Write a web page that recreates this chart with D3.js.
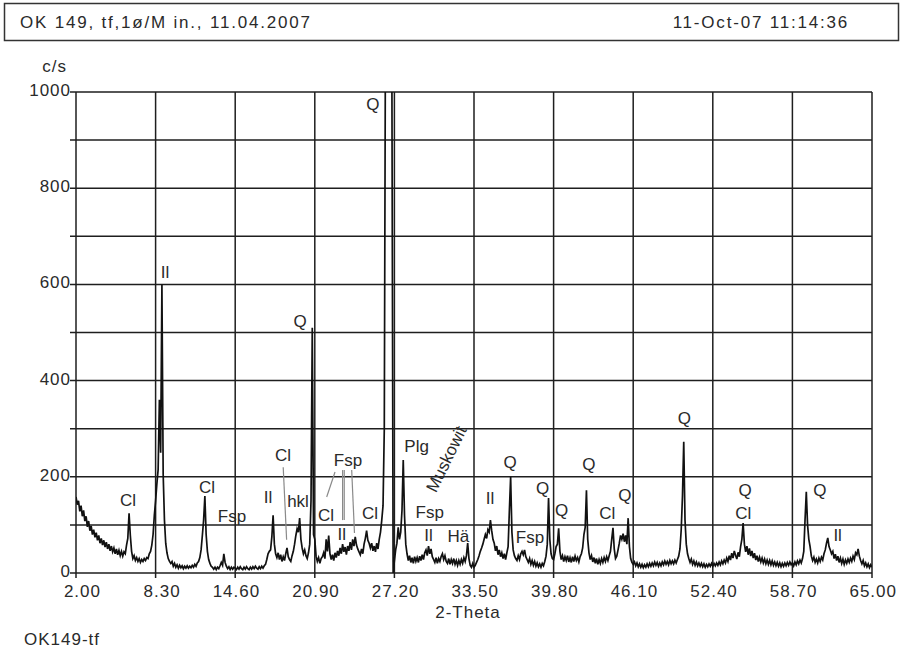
<!DOCTYPE html>
<html>
<head>
<meta charset="utf-8">
<script src="https://cdn.jsdelivr.net/npm/d3@7/dist/d3.min.js"></script>
<style>
  html, body { margin: 0; padding: 0; background: #fff; }
  svg { display: block; }
  text { font-family: "Liberation Sans", Arial, sans-serif; fill: #2a2a2a; }
</style>
</head>
<body>
<svg id="chart" width="906" height="651"></svg>
<script>
// Scan parameters: counts per second, 2-Theta 2.00 .. 65.00, step 0.1
const scanStart = 2.0;
const scanStep = 0.1;

// Counts, one block per 6.3 degree interval
const counts_02_08 = [158,142,150,128,140,118,130,108,118,96,108,88,98,80,90,74,84,68,78,62,72,58,68,54,64,50,60,46,56,44,52,40,50,38,47,36,45,35,44,40,58,72,124,78,45,30,36,26,32,24,30,22,28,24,30,26,32,30,40,45,58,80,120];
const counts_08_14 = [150,185,215,360,250,600,205,110,62,42,30,24,20,24,14,20,12,17,10,16,11,15,9,14,10,15,10,14,11,16,12,18,14,21,24,32,48,78,110,160,80,45,28,20,14,12,8,12,7,12,9,15,22,16,40,22,14,9,13,7,12,8,12];
const counts_14_20 = [10,7,12,8,13,9,7,12,8,13,9,7,12,8,13,9,14,10,8,13,9,14,10,15,18,28,40,45,48,75,120,60,40,32,42,28,38,24,34,26,40,52,34,28,24,36,45,60,78,92,85,114,70,52,40,48,36,30,42,60,150,510,80];
const counts_20_27 = [70,35,24,32,20,30,34,42,30,70,45,78,40,28,38,26,42,32,46,36,52,40,60,44,54,38,56,46,64,48,70,56,75,58,50,44,38,50,40,60,72,88,68,62,52,62,46,56,44,62,50,70,85,110,140,300,1200,1600,1500,1300,1100,1050,0];
const counts_27_33 = [25,48,62,95,70,85,130,235,120,60,40,26,36,22,32,20,34,24,32,22,35,26,38,28,42,48,36,56,40,50,34,28,22,32,20,30,24,34,40,28,36,24,20,30,18,28,20,30,18,26,16,26,18,28,20,32,24,36,62,30,16,12,20];
const counts_33_39 = [12,16,22,28,36,45,52,60,70,80,72,90,85,110,88,70,62,46,56,38,48,34,42,30,40,28,42,55,130,200,85,48,36,30,26,36,28,40,45,38,48,34,28,22,30,18,26,16,24,14,21,13,19,12,20,15,24,35,60,156,70,40,30];
const counts_39_46 = [28,40,55,60,93,45,28,36,24,34,26,36,23,32,22,34,24,35,26,32,23,34,40,52,80,95,172,70,42,28,36,23,32,20,30,18,28,20,30,22,32,24,34,26,36,45,70,94,50,30,35,48,62,78,70,82,65,78,60,114,55,30,22];
const counts_46_52 = [18,23,15,21,13,19,12,18,11,17,12,19,13,20,14,21,15,23,16,22,14,21,15,23,17,25,18,24,17,26,19,25,19,27,21,28,35,50,90,160,273,110,60,40,30,22,29,18,25,16,23,15,21,14,20,13,19,12,18,13,19,14,20];
const counts_52_58 = [14,20,15,21,16,23,17,25,19,27,21,31,24,36,27,41,31,46,37,29,43,34,55,70,104,60,44,56,38,51,35,46,31,41,27,36,24,33,23,31,21,29,19,27,18,26,17,25,16,23,15,22,14,21,13,20,14,21,15,22,16,23,17];
const counts_58_65 = [21,15,23,17,25,19,27,21,30,45,110,169,100,70,55,35,26,33,22,29,21,31,24,33,27,40,48,62,73,55,48,40,45,30,39,26,35,22,31,20,29,18,27,20,29,22,31,24,35,28,42,38,50,35,26,19,26,15,21,13,19,11,17,12];

// Axis tick values and their printed labels
const xTicks = [2.0, 8.3, 14.6, 20.9, 27.2, 33.5, 39.8, 46.1, 52.4, 58.7, 65.0];
const xTickLabels = ["2.00","8.30","14.60","20.90","27.20","33.50","39.80","46.10","52.40","58.70","65.00"];
const yGrid = [0,100,200,300,400,500,600,700,800,900,1000];
const yTickLabels = {0:"0", 200:"200", 400:"400", 600:"600", 800:"800", 1000:"1000"};

// Phase assignments: text, 2-Theta, c/s of the label baseline
const phaseLabels = [
  ["Cl", 6.12, 139], ["Il", 9.04, 613], ["Cl", 12.37, 166], ["Fsp", 14.35, 106],
  ["Il", 17.2, 145], ["Cl", 18.38, 233], ["hkl", 19.57, 137], ["Q", 19.73, 511],
  ["Cl", 21.79, 108], ["Fsp", 23.53, 222], ["Il", 23.03, 69], ["Cl", 25.27, 112],
  ["Q", 25.5, 962], ["Plg", 28.96, 251], ["Fsp", 30.0, 114], ["Il", 29.9, 66],
  ["Hä", 32.26, 64], ["Il", 34.77, 143], ["Q", 36.35, 218], ["Fsp", 37.93, 62],
  ["Q", 38.94, 164], ["Q", 40.44, 118], ["Q", 42.6, 214], ["Cl", 44.05, 112],
  ["Q", 45.45, 150], ["Q", 50.14, 309], ["Q", 54.95, 160], ["Cl", 54.82, 112],
  ["Q", 60.88, 160], ["Il", 62.28, 66]
];
// Rotated phase name: text, 2-Theta, c/s of its centre
const rotatedLabels = [["Muskowit", 31.3, 237]];
// Leader lines: from [2-Theta, c/s] to [2-Theta, c/s]
const leaders = [
  [[18.4, 220], [18.67, 69]],
  [[22.5, 210], [21.84, 158]],
  [[23.1, 214], [23.1, 110]],
  [[23.23, 214], [23.23, 110]],
  [[23.82, 214], [24.04, 83]]
];

const counts = [].concat(counts_02_08, counts_08_14, counts_14_20, counts_20_27, counts_27_33,
                         counts_33_39, counts_39_46, counts_46_52, counts_52_58, counts_58_65);
const scan = counts.map((c, i) => [+(scanStart + i * scanStep).toFixed(2), c]);

const svg = d3.select("#chart");
const plotLeft = 76, plotRight = 872, plotTop = 92, plotBottom = 573;
const x = d3.scaleLinear().domain([2, 65]).range([plotLeft, plotRight]);
const y = d3.scaleLinear().domain([0, 1000]).range([plotBottom, plotTop]);

// Header box
svg.append("rect").attr("x", 4.5).attr("y", 3.5).attr("width", 894).attr("height", 37)
  .attr("fill", "none").attr("stroke", "#333").attr("stroke-width", 1.5);
svg.append("text").attr("x", 20).attr("y", 28).attr("font-size", 17).attr("letter-spacing", 1.8)
  .text("OK 149, tf,1ø/M in., 11.04.2007");
svg.append("text").attr("x", 849).attr("y", 28).attr("font-size", 17).attr("letter-spacing", 1.8)
  .attr("text-anchor", "end").text("11-Oct-07 11:14:36");

// Grid
const grid = svg.append("g").attr("stroke", "#1e1e1e").attr("stroke-width", 1.5);
grid.selectAll("line.v").data(xTicks).join("line").attr("class", "v")
  .attr("x1", d => x(d)).attr("x2", d => x(d)).attr("y1", plotTop).attr("y2", plotBottom + 5);
grid.selectAll("line.h").data(yGrid).join("line").attr("class", "h")
  .attr("x1", plotLeft - 6).attr("x2", plotRight).attr("y1", d => y(d)).attr("y2", d => y(d));

// Axis labels
const axisText = svg.append("g").attr("font-size", 17).attr("letter-spacing", 1);
axisText.selectAll("text.xt").data(xTicks).join("text").attr("class", "xt")
  .attr("x", d => x(d) + 25).attr("y", plotBottom + 24).attr("text-anchor", "end")
  .text((d, i) => xTickLabels[i]);
axisText.selectAll("text.yt").data(yGrid.filter(v => yTickLabels[v] !== undefined)).join("text").attr("class", "yt")
  .attr("x", plotLeft - 5).attr("y", d => y(d) + 4).attr("text-anchor", "end")
  .text(d => yTickLabels[d]);
axisText.append("text").attr("x", 67).attr("y", 72).attr("text-anchor", "end").text("c/s");
axisText.append("text").attr("x", 468).attr("y", 618).attr("text-anchor", "middle").text("2-Theta");
axisText.append("text").attr("x", 24).attr("y", 645).text("OK149-tf");

// Diffractogram
svg.append("defs").append("clipPath").attr("id", "plotClip")
  .append("rect").attr("x", plotLeft).attr("y", plotTop).attr("width", plotRight - plotLeft).attr("height", plotBottom - plotTop + 6);
const line = d3.line().x(d => x(d[0])).y(d => y(d[1]));
svg.append("path").datum(scan).attr("clip-path", "url(#plotClip)")
  .attr("fill", "none").attr("stroke", "#111").attr("stroke-width", 1.7)
  .attr("stroke-linejoin", "miter").attr("d", line);

// Leader lines
svg.append("g").attr("stroke", "#8a8a8a").attr("stroke-width", 1.2)
  .selectAll("line").data(leaders).join("line")
  .attr("x1", d => x(d[0][0])).attr("y1", d => y(d[0][1]))
  .attr("x2", d => x(d[1][0])).attr("y2", d => y(d[1][1]));

// Phase labels
const labels = svg.append("g").attr("font-size", 17);
labels.selectAll("text.ph").data(phaseLabels).join("text").attr("class", "ph")
  .attr("x", d => x(d[1])).attr("y", d => y(d[2])).attr("text-anchor", "middle").text(d => d[0]);
labels.selectAll("text.rot").data(rotatedLabels).join("text").attr("class", "rot")
  .attr("text-anchor", "middle").attr("dy", "0.35em")
  .attr("transform", d => `translate(${x(d[1])},${y(d[2])}) rotate(-64)`).text(d => d[0]);
</script>
</body>
</html>
